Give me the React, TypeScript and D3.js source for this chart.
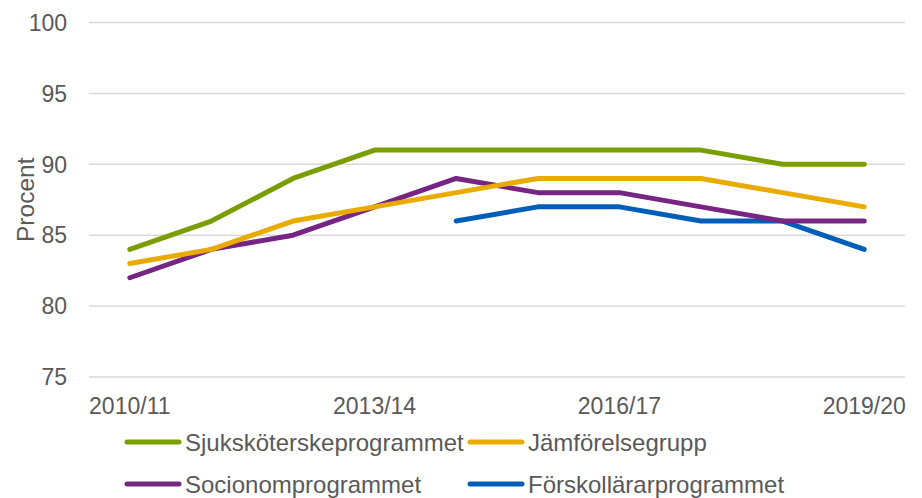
import React, { useEffect, useRef } from "react";
import * as d3 from "d3";

const years = ["2010/11", "2011/12", "2012/13", "2013/14", "2014/15", "2015/16", "2016/17", "2017/18", "2018/19", "2019/20"];
const tickYears = ["2010/11", "2013/14", "2016/17", "2019/20"];
const yTicks = [75, 80, 85, 90, 95, 100];

const sjukskoterske = [84, 86, 89, 91, 91, 91, 91, 91, 90, 90];
const jamforelse = [83, 84, 86, 87, 88, 89, 89, 89, 88, 87];
const socionom = [82, 84, 85, 87, 89, 88, 88, 87, 86, 86];
const forskollarar = [null, null, null, null, 86, 87, 87, 86, 86, 84];

const seriesNames = ["Sjuksköterskeprogrammet", "Jämförelsegrupp", "Socionomprogrammet", "Förskollärarprogrammet"];
const seriesColors = ["#7a9e00", "#eaab00", "#772583", "#005eb8"];

const W = 922, H = 498;
const margin = { top: 22.5, right: 17, bottom: 121, left: 89 };

export default function App() {
  const ref = useRef<SVGSVGElement>(null);

  useEffect(() => {
    const svg = d3.select(ref.current);
    svg.selectAll("*").remove();

    const x = d3.scalePoint<string>()
      .domain(years)
      .range([margin.left, W - margin.right])
      .padding(0.5);
    const y = d3.scaleLinear()
      .domain([75, 100])
      .range([H - margin.bottom, margin.top]);

    const font = "Liberation Sans, Arial, sans-serif";

    // gridlines
    svg.append("g")
      .selectAll("line")
      .data(yTicks)
      .enter()
      .append("line")
      .attr("x1", margin.left)
      .attr("x2", W - margin.right)
      .attr("y1", d => y(d))
      .attr("y2", d => y(d))
      .attr("stroke", "#d9d9d9")
      .attr("stroke-width", 1.5);

    // y tick labels
    svg.append("g")
      .selectAll("text")
      .data(yTicks)
      .enter()
      .append("text")
      .attr("x", 67)
      .attr("y", d => y(d))
      .attr("dy", "0.36em")
      .attr("text-anchor", "end")
      .attr("font-family", font)
      .attr("font-size", 23)
      .attr("fill", "#595959")
      .text(d => d);

    // y axis title
    svg.append("text")
      .attr("transform", `translate(34,${(y(75) + y(100)) / 2}) rotate(-90)`)
      .attr("text-anchor", "middle")
      .attr("font-family", font)
      .attr("font-size", 24.5)
      .attr("fill", "#595959")
      .text("Procent");

    // x tick labels
    svg.append("g")
      .selectAll("text")
      .data(tickYears)
      .enter()
      .append("text")
      .attr("x", d => x(d)!)
      .attr("y", 414)
      .attr("text-anchor", "middle")
      .attr("font-family", font)
      .attr("font-size", 23)
      .attr("fill", "#595959")
      .text(d => d);

    const allSeries = [sjukskoterske, jamforelse, socionom, forskollarar];
    const line = d3.line<number | null>()
      .defined(d => d != null)
      .x((d, i) => x(years[i])!)
      .y(d => y(d as number));

    // blue first, green last so green sits on top
    [3, 2, 1, 0].forEach(k => {
      svg.append("path")
        .datum(allSeries[k])
        .attr("fill", "none")
        .attr("stroke", seriesColors[k])
        .attr("stroke-width", 5)
        .attr("stroke-linejoin", "round")
        .attr("stroke-linecap", "round")
        .attr("d", line);
    });

    // legend
    const legendPos = [
      { lx: 127, ly: 442 },
      { lx: 470, ly: 442 },
      { lx: 127, ly: 484 },
      { lx: 470, ly: 484 },
    ];
    const lg = svg.append("g");
    seriesNames.forEach((name, k) => {
      const p = legendPos[k];
      lg.append("line")
        .attr("x1", p.lx)
        .attr("x2", p.lx + 52)
        .attr("y1", p.ly)
        .attr("y2", p.ly)
        .attr("stroke", seriesColors[k])
        .attr("stroke-width", 5)
        .attr("stroke-linecap", "round");
      lg.append("text")
        .attr("x", p.lx + 58)
        .attr("y", p.ly)
        .attr("dy", "0.36em")
        .attr("font-family", font)
        .attr("font-size", 24)
        .attr("fill", "#595959")
        .text(name);
    });
  }, []);

  return (
    <svg
      ref={ref}
      width={W}
      height={H}
      style={{ position: "absolute", left: 0, top: 0, background: "#fff" }}
    />
  );
}
